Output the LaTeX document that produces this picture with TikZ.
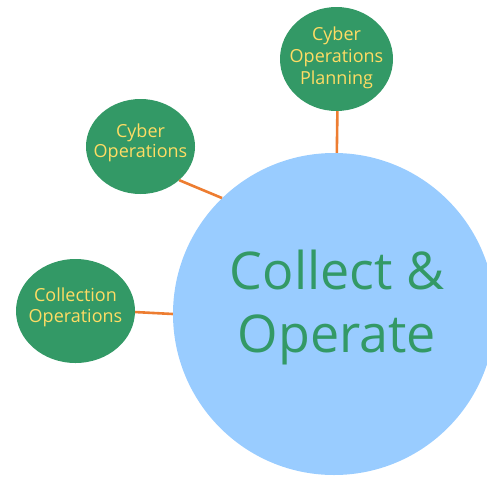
\documentclass[tikz,border=0pt]{standalone}
\usepackage{fontspec}
\setmainfont{Open Sans}
\usetikzlibrary{shapes.geometric}
\definecolor{cgreen}{RGB}{51,153,102}
\definecolor{cblue}{RGB}{153,204,255}
\definecolor{corange}{RGB}{237,125,49}
\definecolor{cyellow}{RGB}{255,220,100}
\tikzset{
  smallbub/.style={ellipse, fill=cgreen, inner sep=0pt},
  smalltext/.style={text=cyellow, align=center, inner sep=0pt,
    font=\fontsize{18}{22}\selectfont},
  conn/.style={draw=corange, line width=2.6pt},
}
\begin{document}
\begin{tikzpicture}[x=1pt,y=-1pt]
\useasboundingbox (0,0) rectangle (487,477);
\clip (0,0) rectangle (487,477);
\node[ellipse, fill=cblue, minimum width=322pt, minimum height=322pt, inner sep=0pt] (big) at (334,314) {};
\node[text=cgreen, align=center, font=\fontsize{52}{63}\selectfont] (bigtext) at (337,307) {Collect \&\\Operate};
\node[smallbub, minimum width=113pt, minimum height=104pt] (plan) at (336.5,59) {};
\node[smalltext] (plantext) at (336.5,58) {Cyber\\Operations\\Planning};
\node[smallbub, minimum width=109pt, minimum height=95pt] (cyb) at (140.5,146.5) {};
\node[smalltext, font=\fontsize{18}{20}\selectfont] (cybtext) at (140.5,143) {Cyber\\Operations};
\node[smallbub, minimum width=119pt, minimum height=104pt] (coll) at (75.5,311) {};
\node[smalltext, font=\fontsize{18}{21}\selectfont] (colltext) at (75.5,307) {Collection\\Operations};
\draw[conn] (plan.-89) -- (big.89);
\draw[conn] (cyb.-41) -- (big.134.5);
\draw[conn] (coll.-1) -- (big.180.7);
\end{tikzpicture}
\end{document}
